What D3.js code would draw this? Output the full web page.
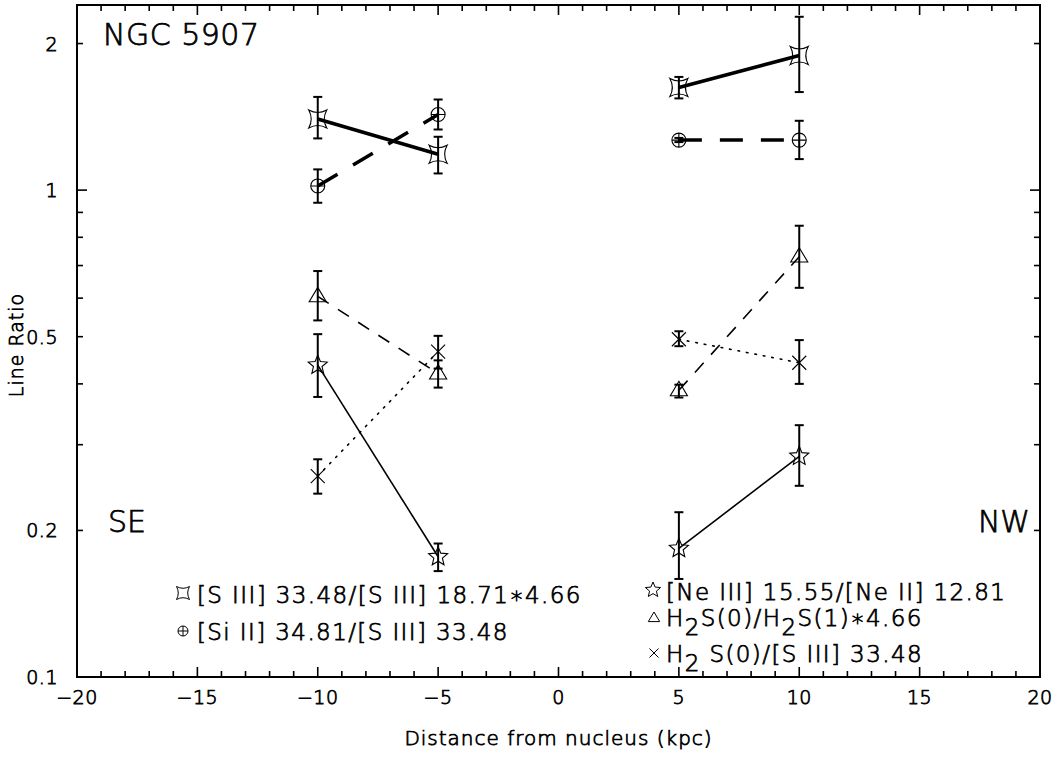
<!DOCTYPE html>
<html>
<head>
<meta charset="utf-8">
<script src="https://cdn.jsdelivr.net/npm/d3@7/dist/d3.min.js"></script>
<style>
  html, body { margin: 0; padding: 0; background: #fff; }
  svg { display: block; }
  text {
    font-family: "DejaVu Sans ExtraLight", "DejaVu Sans Light", "DejaVu Sans", sans-serif;
    fill: #000; stroke: #000; stroke-width: 0.75px; white-space: pre;
  }
</style>
</head>
<body>
<svg id="chart" width="1057" height="760"></svg>
<script>
// Projected distance of each aperture from the nucleus (kpc): SE pair, then NW pair
const distance = [-10, -5, 5, 10];
const side = ["SE", "SE", "NW", "NW"];

// [S III] 33.48/[S III] 18.71 * 4.66
const sIIIRatio   = [1.40, 1.185, 1.625, 1.89];
const sIIIRatioLo = [1.277, 1.082, 1.543, 1.59];
const sIIIRatioHi = [1.554, 1.287, 1.708, 2.27];

// [Si II] 34.81/[S III] 33.48
const siIIRatio   = [1.02, 1.43, 1.267, 1.267];
const siIIRatioLo = [0.942, 1.332, 1.255, 1.158];
const siIIRatioHi = [1.103, 1.535, 1.280, 1.388];

// [Ne III] 15.55/[Ne II] 12.81
const neRatio   = [0.437, 0.1766, 0.1837, 0.284];
const neRatioLo = [0.376, 0.165, 0.159, 0.247];
const neRatioHi = [0.506, 0.188, 0.218, 0.329];

// H2 S(0)/H2 S(1) * 4.66
const h2Ratio   = [0.605, 0.420, 0.388, 0.730];
const h2RatioLo = [0.540, 0.393, 0.375, 0.630];
const h2RatioHi = [0.682, 0.447, 0.3985, 0.845];

// H2 S(0)/[S III] 33.48
const h2sIIIRatio   = [0.2587, 0.466, 0.494, 0.442];
const h2sIIIRatioLo = [0.238, 0.430, 0.478, 0.400];
const h2sIIIRatioHi = [0.280, 0.502, 0.513, 0.492];

// Axis ticks
const xMajorTicks = [-20, -15, -10, -5, 0, 5, 10, 15, 20];
const xTickLabels = ["\u221220", "\u221215", "\u221210", "\u22125", "0", "5", "10", "15", "20"];
const yLabelTicks = [0.1, 0.2, 0.5, 1, 2];
const yTickLabels = ["0.1", "0.2", "0.5", "1", "2"];
const yDecadeTicks = [0.1, 1];
const yMinorTicks = [0.2, 0.3, 0.4, 0.5, 0.6, 0.7, 0.8, 0.9, 2];

const plot = { left: 77, right: 1040, top: 5, bottom: 677 };

const svg = d3.select("#chart");
const x = d3.scaleLinear().domain([-20, 20]).range([plot.left, plot.right]);
const y = d3.scaleLog().domain([0.1, 2.4]).range([plot.bottom, plot.top]);

// ---- symbol shapes ----
function concaveSquare(s) {
  const k = 0.45 * s;
  return `M${-s},${-s} Q0,${-k} ${s},${-s} Q${k},0 ${s},${s} Q0,${k} ${-s},${s} Q${-k},0 ${-s},${-s} Z`;
}
function circlePlus(r) {
  return `M${-r},0 A${r},${r} 0 1,0 ${r},0 A${r},${r} 0 1,0 ${-r},0 Z M${-r},0 L${r},0 M0,${-r} L0,${r}`;
}
function triangle(s) {
  return `M0,${-s} L${s * 0.95},${s * 0.6} L${-s * 0.95},${s * 0.6} Z`;
}
function star(ro) {
  const ri = ro * 0.45;
  let p = "";
  for (let i = 0; i < 10; i++) {
    const r = i % 2 === 0 ? ro : ri;
    const a = -Math.PI / 2 + i * Math.PI / 5;
    p += (i === 0 ? "M" : "L") + (r * Math.cos(a)).toFixed(2) + "," + (r * Math.sin(a)).toFixed(2);
  }
  return p + "Z";
}
function cross(s) {
  return `M${-s},${-s} L${s},${s} M${-s},${s} L${s},${-s}`;
}

const series = [
  { v: sIIIRatio, lo: sIIIRatioLo, hi: sIIIRatioHi, shape: () => concaveSquare(9), width: 3.5, dash: null, cap: "butt" },
  { v: siIIRatio, lo: siIIRatioLo, hi: siIIRatioHi, shape: () => circlePlus(7), width: 3.5, dash: "23,18", cap: "butt" },
  { v: neRatio, lo: neRatioLo, hi: neRatioHi, shape: () => star(10), width: 1.6, dash: null, cap: "butt" },
  { v: h2Ratio, lo: h2RatioLo, hi: h2RatioHi, shape: () => triangle(9), width: 1.6, dash: "13,11", cap: "butt" },
  { v: h2sIIIRatio, lo: h2sIIIRatioLo, hi: h2sIIIRatioHi, shape: () => cross(7), width: 1.6, dash: "1.6,7", cap: "round" }
];

const g = svg.append("g");

// connecting lines, one segment per side of the nucleus
const line = d3.line().x(d => x(d.d)).y(d => y(d.v));
series.forEach(s => {
  ["SE", "NW"].forEach(sd => {
    const pts = distance.map((d, i) => ({ d, v: s.v[i], sd: side[i] })).filter(p => p.sd === sd);
    g.append("path")
      .attr("d", line(pts))
      .attr("fill", "none")
      .attr("stroke", "#000")
      .attr("stroke-width", s.width)
      .attr("stroke-dasharray", s.dash)
      .attr("stroke-linecap", s.cap);
  });
});

// error bars and markers
series.forEach(s => {
  distance.forEach((d, i) => {
    const cx = x(d);
    const y0 = y(s.lo[i]), y1 = y(s.hi[i]);
    g.append("line").attr("x1", cx).attr("x2", cx).attr("y1", y0).attr("y2", y1)
      .attr("stroke", "#000").attr("stroke-width", 2);
    [y0, y1].forEach(yy => g.append("line")
      .attr("x1", cx - 4.5).attr("x2", cx + 4.5).attr("y1", yy).attr("y2", yy)
      .attr("stroke", "#000").attr("stroke-width", 2));
    g.append("path")
      .attr("d", s.shape())
      .attr("transform", `translate(${cx},${y(s.v[i])})`)
      .attr("fill", "none").attr("stroke", "#000").attr("stroke-width", 1.1);
  });
});

// ---- frame and ticks ----
const axes = svg.append("g").attr("stroke", "#000").attr("stroke-width", 1.6);
axes.append("rect")
  .attr("x", plot.left).attr("y", plot.top)
  .attr("width", plot.right - plot.left).attr("height", plot.bottom - plot.top)
  .attr("fill", "none").attr("stroke-width", 2);

const xMinor = d3.range(-20, 21, 1).filter(v => v % 5 !== 0);
function xTick(v, len) {
  axes.append("line").attr("x1", x(v)).attr("x2", x(v)).attr("y1", plot.bottom).attr("y2", plot.bottom - len);
  axes.append("line").attr("x1", x(v)).attr("x2", x(v)).attr("y1", plot.top).attr("y2", plot.top + len);
}
xMajorTicks.forEach(v => xTick(v, 10));
xMinor.forEach(v => xTick(v, 6));

function yTick(v, len) {
  axes.append("line").attr("y1", y(v)).attr("y2", y(v)).attr("x1", plot.left).attr("x2", plot.left + len);
  axes.append("line").attr("y1", y(v)).attr("y2", y(v)).attr("x1", plot.right).attr("x2", plot.right - len);
}
yDecadeTicks.forEach(v => yTick(v, 10));
yMinorTicks.forEach(v => yTick(v, 6));

// tick labels
svg.append("g").selectAll("text").data(xMajorTicks).join("text")
  .attr("x", d => x(d)).attr("y", plot.bottom + 27)
  .attr("text-anchor", "middle").attr("font-size", 19).attr("letter-spacing", 0.5)
  .text((d, i) => xTickLabels[i]);

svg.append("g").selectAll("text").data(yLabelTicks).join("text")
  .attr("x", plot.left - 19).attr("y", d => y(d) + 7)
  .attr("text-anchor", "end").attr("font-size", 19).attr("letter-spacing", 0.5)
  .text((d, i) => yTickLabels[i]);

// axis titles
svg.append("text").attr("x", (plot.left + plot.right) / 2).attr("y", 745)
  .attr("text-anchor", "middle").attr("font-size", 20).attr("letter-spacing", 1)
  .text("Distance from nucleus (kpc)");
svg.append("text").attr("transform", `translate(23,${(plot.top + plot.bottom) / 2 + 4}) rotate(-90)`)
  .attr("text-anchor", "middle").attr("font-size", 19).attr("letter-spacing", 1)
  .text("Line Ratio");

// annotations
svg.append("text").attr("x", 103).attr("y", 45).attr("font-size", 30).attr("letter-spacing", 0.5)
  .text("NGC 5907");
svg.append("text").attr("x", 108).attr("y", 532).attr("font-size", 30).text("SE");
svg.append("text").attr("x", 1030).attr("y", 532).attr("font-size", 30).attr("text-anchor", "end").text("NW");

// ---- legend ----
const legFont = 23, legSpacing = 1.4, subShift = 9;
const leg = svg.append("g");
function legendSymbol(d, cx, cy) {
  leg.append("path").attr("d", d).attr("transform", `translate(${cx},${cy})`)
    .attr("fill", "none").attr("stroke", "#000").attr("stroke-width", 1);
}
// parts: strings are normal text, {sub} entries are drawn as subscripts
function legendText(tx, ty, parts) {
  const t = leg.append("text").attr("x", tx).attr("y", ty).attr("font-size", legFont).attr("letter-spacing", legSpacing);
  let shifted = false;
  parts.forEach(p => {
    const span = t.append("tspan");
    if (typeof p === "object") {
      span.attr("dy", subShift).text(p.sub);
      shifted = true;
    } else {
      if (shifted) { span.attr("dy", -subShift); shifted = false; }
      span.text(p);
    }
  });
}
legendSymbol(concaveSquare(6.5), 183, 593);
legendText(197, 603, ["[S III] 33.48/[S III] 18.71\u22174.66"]);
legendSymbol(circlePlus(5), 183, 631);
legendText(197, 640, ["[Si II] 34.81/[S III] 33.48"]);

legendSymbol(star(8), 653, 590);
legendText(666, 600, ["[Ne III] 15.55/[Ne II] 12.81"]);
legendSymbol(triangle(6), 654, 618);
legendText(666, 626, ["H", { sub: "2" }, "S(0)/H", { sub: "2" }, "S(1)\u22174.66"]);
legendSymbol(cross(4.5), 654, 653);
legendText(666, 662, ["H", { sub: "2" }, " S(0)/[S III] 33.48"]);
</script>
</body>
</html>
